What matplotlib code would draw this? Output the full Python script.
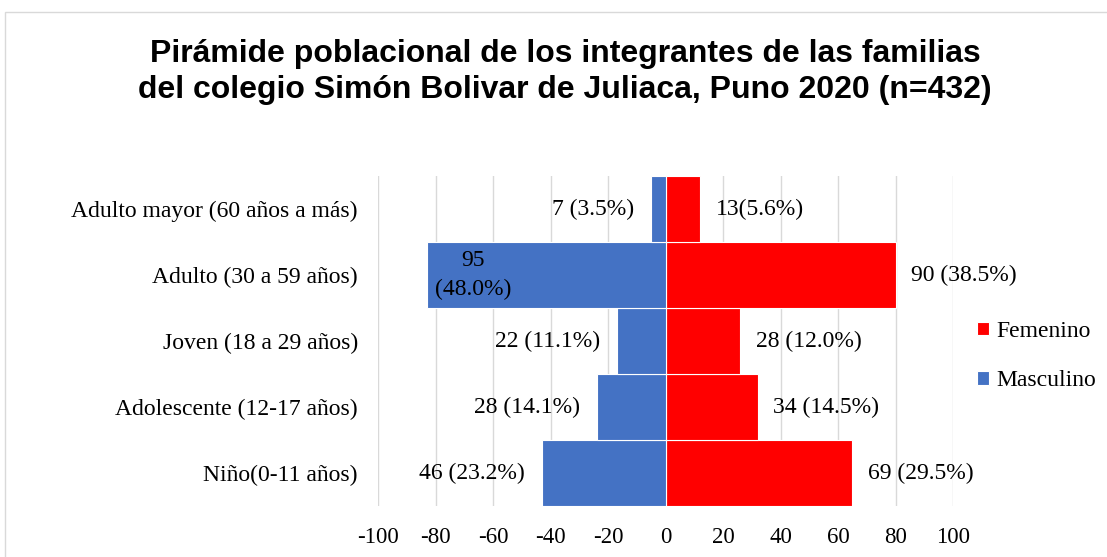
import numpy as np
import matplotlib
matplotlib.use("Agg")
import matplotlib.pyplot as plt
from matplotlib.patches import Rectangle

# data (bar lengths as drawn, labels as printed)
categorias = ["Niño(0-11 años)", "Adolescente (12-17 años)", "Joven (18 a 29 años)",
              "Adulto (30 a 59 años)", "Adulto mayor (60 años a más)"]
masculino = [43, 24, 17, 83, 5]
femenino = [65, 32, 26, 80, 12]
etq_masc = ["46 (23.2%)", "28 (14.1%)", "22 (11.1%)", "95\n(48.0%)", "7 (3.5%)"]
etq_fem = ["69 (29.5%)", "34 (14.5%)", "28 (12.0%)", "90 (38.5%)", "13(5.6%)"]
ticks = [-100, -80, -60, -40, -20, 0, 20, 40, 60, 80, 100]

azul = "#4472C4"
rojo = "#FF0000"
serif = "Liberation Serif"
fs = 17

fig = plt.figure(figsize=(11.07, 5.57), dpi=100)
fig.patches.append(Rectangle((5 / 1107, -0.1), 1.2, 1 - 12 / 557 + 0.1,
                             transform=fig.transFigure, fill=False,
                             edgecolor="#d9d9d9", linewidth=1.0))

ax = fig.add_axes([378 / 1107, 1 - 506 / 557, (953 - 378) / 1107, (506 - 176) / 557])
y = np.arange(len(categorias))

ax.barh(y, femenino, height=1.0, color=rojo, edgecolor="white", linewidth=0.8,
        label="Femenino", zorder=2)
ax.barh(y, -np.array(masculino), height=1.0, color=azul, edgecolor="white",
        linewidth=0.8, label="Masculino", zorder=2)

for i in range(len(categorias)):
    if "\n" in etq_masc[i]:
        ax.text(-67, y[i], etq_masc[i], ha="center", va="center", fontsize=fs,
                family=serif, linespacing=1.5, zorder=3)
    else:
        ax.annotate(etq_masc[i], (-masculino[i], y[i]), xytext=(-12, 0),
                    textcoords="offset points", ha="right", va="center",
                    fontsize=fs, family=serif, zorder=3)
    ax.annotate(etq_fem[i], (femenino[i], y[i]), xytext=(11.5, 0),
                textcoords="offset points", ha="left", va="center",
                fontsize=fs, family=serif, zorder=3)

ax.set_xlim(-100, 100)
ax.set_ylim(-0.5, len(categorias) - 0.5)
ax.set_xticks(ticks)
ax.set_xticklabels([str(t) for t in ticks], family=serif, fontsize=16.5)
ax.set_yticks(y)
ax.set_yticklabels(categorias, family=serif, fontsize=fs)
ax.tick_params(length=0)
ax.tick_params(axis="x", pad=15)
ax.tick_params(axis="y", pad=14.5)
ax.grid(axis="x", color="#d9d9d9", linewidth=1.0, zorder=0)
ax.set_axisbelow(True)
for s in ax.spines.values():
    s.set_visible(False)

fig.text(565 / 1107, 1 - 72 / 557,
         "Pirámide poblacional de los integrantes de las familias\n"
         "del colegio Simón Bolivar de Juliaca, Puno 2020 (n=432)",
         ha="center", va="center", fontsize=23, fontweight="bold",
         family="Liberation Sans", linespacing=1.3)

leg = fig.legend(loc="center left", bbox_to_anchor=(956 / 1107, 1 - 356 / 557),
                 frameon=False, prop={"family": serif, "size": fs},
                 handlelength=0.5, handleheight=0.5, handletextpad=0.3,
                 labelspacing=1.2)

fig.savefig("out.png", dpi=100)
